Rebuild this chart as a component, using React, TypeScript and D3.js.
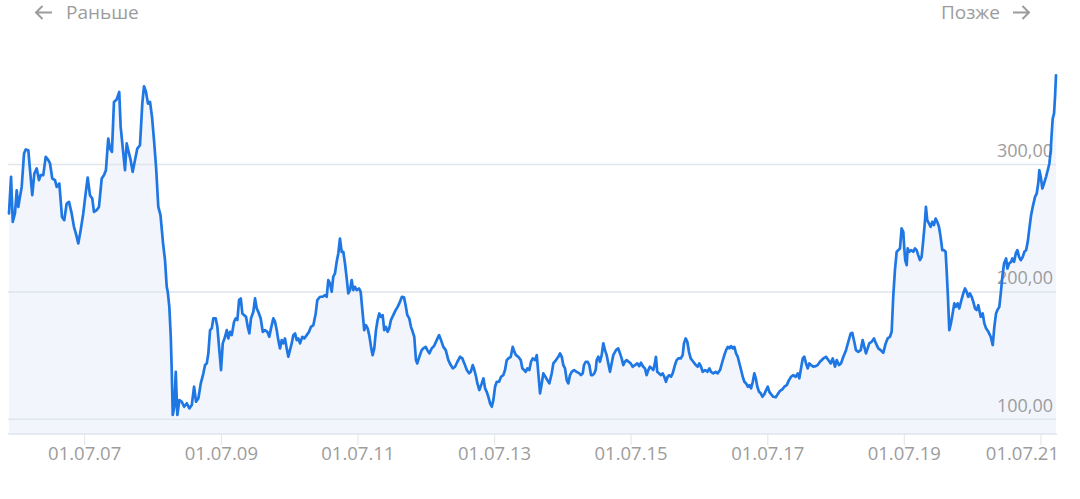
import React, { useEffect, useRef } from 'react';
import * as d3 from 'd3';

// time as decimal years, price in rubles
const YEARS = [
  2006.387, 2006.417, 2006.442, 2006.475, 2006.5, 2006.523, 2006.548, 2006.573, 2006.607, 2006.632,
  2006.67, 2006.695, 2006.728, 2006.758, 2006.793, 2006.827, 2006.851, 2006.889, 2006.925, 2006.963,
  2006.988, 2007.021, 2007.061, 2007.086, 2007.124, 2007.163, 2007.197, 2007.232, 2007.266, 2007.305,
  2007.339, 2007.373, 2007.402, 2007.437, 2007.475, 2007.51, 2007.54, 2007.573, 2007.607, 2007.632,
  2007.671, 2007.705, 2007.745, 2007.778, 2007.807, 2007.841, 2007.866, 2007.895, 2007.925, 2007.964,
  2008.002, 2008.023, 2008.052, 2008.086, 2008.111, 2008.134, 2008.169, 2008.198, 2008.232, 2008.266,
  2008.305, 2008.339, 2008.364, 2008.393, 2008.422, 2008.452, 2008.481, 2008.51, 2008.54, 2008.573,
  2008.605, 2008.642, 2008.671, 2008.696, 2008.711, 2008.734, 2008.755, 2008.769, 2008.784, 2008.807,
  2008.828, 2008.851, 2008.881, 2008.916, 2008.95, 2008.989, 2009.027, 2009.062, 2009.096, 2009.125,
  2009.159, 2009.194, 2009.232, 2009.257, 2009.282, 2009.305, 2009.33, 2009.355, 2009.378, 2009.413,
  2009.437, 2009.466, 2009.491, 2009.516, 2009.55, 2009.575, 2009.598, 2009.623, 2009.648, 2009.682,
  2009.706, 2009.73, 2009.755, 2009.78, 2009.803, 2009.828, 2009.857, 2009.882, 2009.906, 2009.93,
  2009.964, 2009.989, 2010.014, 2010.037, 2010.072, 2010.102, 2010.135, 2010.169, 2010.198, 2010.223,
  2010.257, 2010.282, 2010.307, 2010.33, 2010.355, 2010.38, 2010.403, 2010.428, 2010.453, 2010.477,
  2010.501, 2010.526, 2010.55, 2010.575, 2010.6, 2010.623, 2010.648, 2010.682, 2010.711, 2010.746,
  2010.78, 2010.809, 2010.843, 2010.878, 2010.901, 2010.941, 2010.98, 2011.014, 2011.039, 2011.062,
  2011.087, 2011.112, 2011.135, 2011.16, 2011.185, 2011.209, 2011.233, 2011.258, 2011.282, 2011.307,
  2011.332, 2011.355, 2011.38, 2011.405, 2011.428, 2011.453, 2011.478, 2011.512, 2011.537, 2011.566,
  2011.589, 2011.614, 2011.639, 2011.662, 2011.692, 2011.712, 2011.736, 2011.761, 2011.785, 2011.809,
  2011.834, 2011.859, 2011.882, 2011.907, 2011.932, 2011.955, 2011.98, 2012.014, 2012.049, 2012.078,
  2012.112, 2012.141, 2012.171, 2012.195, 2012.219, 2012.248, 2012.273, 2012.298, 2012.321, 2012.346,
  2012.365, 2012.395, 2012.43, 2012.453, 2012.488, 2012.512, 2012.541, 2012.576, 2012.61, 2012.649,
  2012.683, 2012.712, 2012.746, 2012.781, 2012.819, 2012.854, 2012.884, 2012.917, 2012.951, 2012.99,
  2013.024, 2013.053, 2013.089, 2013.122, 2013.147, 2013.176, 2013.2, 2013.225, 2013.244, 2013.273,
  2013.308, 2013.332, 2013.357, 2013.381, 2013.405, 2013.43, 2013.455, 2013.478, 2013.503, 2013.528,
  2013.561, 2013.591, 2013.624, 2013.649, 2013.674, 2013.698, 2013.733, 2013.762, 2013.786, 2013.81,
  2013.844, 2013.879, 2013.903, 2013.928, 2013.952, 2013.976, 2014.005, 2014.03, 2014.055, 2014.089,
  2014.114, 2014.137, 2014.162, 2014.187, 2014.21, 2014.24, 2014.269, 2014.298, 2014.333, 2014.357,
  2014.396, 2014.43, 2014.455, 2014.48, 2014.503, 2014.528, 2014.553, 2014.576, 2014.601, 2014.626,
  2014.66, 2014.699, 2014.737, 2014.762, 2014.787, 2014.806, 2014.831, 2014.86, 2014.884, 2014.909,
  2014.933, 2014.957, 2014.977, 2014.992, 2015.015, 2015.04, 2015.065, 2015.089, 2015.113, 2015.138,
  2015.162, 2015.187, 2015.211, 2015.235, 2015.275, 2015.308, 2015.333, 2015.358, 2015.381, 2015.406,
  2015.431, 2015.46, 2015.49, 2015.519, 2015.553, 2015.586, 2015.616, 2015.64, 2015.674, 2015.699,
  2015.724, 2015.748, 2015.772, 2015.797, 2015.821, 2015.845, 2015.86, 2015.879, 2015.904, 2015.933,
  2015.958, 2015.982, 2016.007, 2016.031, 2016.055, 2016.08, 2016.105, 2016.138, 2016.163, 2016.187,
  2016.222, 2016.251, 2016.27, 2016.295, 2016.319, 2016.343, 2016.368, 2016.406, 2016.442, 2016.471,
  2016.494, 2016.519, 2016.544, 2016.578, 2016.611, 2016.641, 2016.665, 2016.699, 2016.734, 2016.763,
  2016.797, 2016.831, 2016.86, 2016.885, 2016.91, 2016.933, 2016.958, 2016.983, 2017.006, 2017.031,
  2017.056, 2017.08, 2017.105, 2017.129, 2017.153, 2017.178, 2017.203, 2017.226, 2017.251, 2017.276,
  2017.299, 2017.32, 2017.343, 2017.368, 2017.393, 2017.417, 2017.446, 2017.471, 2017.495, 2017.519,
  2017.544, 2017.577, 2017.613, 2017.642, 2017.676, 2017.709, 2017.739, 2017.774, 2017.807, 2017.837,
  2017.87, 2017.905, 2017.935, 2017.958, 2017.983, 2018.008, 2018.031, 2018.056, 2018.081, 2018.104,
  2018.129, 2018.163, 2018.198, 2018.227, 2018.261, 2018.31, 2018.349, 2018.383, 2018.418, 2018.447,
  2018.481, 2018.506, 2018.539, 2018.569, 2018.603, 2018.642, 2018.676, 2018.711, 2018.734, 2018.763,
  2018.788, 2018.822, 2018.857, 2018.886, 2018.91, 2018.935, 2018.959, 2018.983, 2019.018, 2019.052,
  2019.081, 2019.115, 2019.15, 2019.188, 2019.223, 2019.252, 2019.286, 2019.311, 2019.334, 2019.359,
  2019.384, 2019.408, 2019.433, 2019.457, 2019.481, 2019.496, 2019.51, 2019.531, 2019.545, 2019.569,
  2019.594, 2019.627, 2019.652, 2019.677, 2019.7, 2019.725, 2019.75, 2019.774, 2019.798, 2019.813,
  2019.832, 2019.857, 2019.882, 2019.906, 2019.93, 2019.955, 2019.979, 2020.004, 2020.028, 2020.052,
  2020.077, 2020.101, 2020.116, 2020.135, 2020.155, 2020.179, 2020.204, 2020.228, 2020.252, 2020.277,
  2020.301, 2020.325, 2020.359, 2020.384, 2020.409, 2020.432, 2020.457, 2020.482, 2020.506, 2020.531,
  2020.555, 2020.579, 2020.614, 2020.643, 2020.667, 2020.692, 2020.726, 2020.76, 2020.79, 2020.813,
  2020.838, 2020.857, 2020.886, 2020.907, 2020.93, 2020.955, 2020.985, 2021.004, 2021.028, 2021.058,
  2021.077, 2021.102, 2021.127, 2021.15, 2021.175, 2021.2, 2021.229, 2021.253, 2021.278, 2021.302,
  2021.326, 2021.351, 2021.375, 2021.409, 2021.434, 2021.458, 2021.472, 2021.493, 2021.516, 2021.541,
  2021.57, 2021.595, 2021.619, 2021.639, 2021.653, 2021.668, 2021.687, 2021.702, 2021.716,
];

const PRICES = [
  261.6, 290.3, 255.0, 261.8, 279.8, 266.7, 274.6, 282.4, 308.6, 311.8,
  311.2, 295.5, 275.9, 292.9, 296.9, 287.7, 291.6, 291.6, 306.0, 303.4,
  300.8, 289.0, 287.7, 282.4, 285.1, 258.9, 256.3, 269.4, 270.7, 261.6,
  251.1, 244.6, 238.0, 248.5, 261.6, 277.3, 289.8, 275.9, 273.3, 262.8,
  264.2, 266.7, 289.0, 291.6, 295.5, 320.4, 312.5, 309.9, 349.1, 351.0,
  356.9, 329.5, 313.8, 295.5, 316.5, 311.2, 303.4, 294.2, 303.4, 312.5,
  315.1, 347.8, 361.4, 356.9, 347.8, 349.1, 337.3, 319.1, 298.1, 266.7,
  260.2, 238.3, 224.9, 204.0, 200.1, 188.3, 164.8, 138.7, 103.4, 109.9,
  137.3, 103.4, 115.1, 113.8, 109.9, 112.6, 108.6, 111.2, 125.6, 113.8,
  116.5, 128.2, 136.1, 142.6, 143.9, 151.8, 170.0, 171.4, 179.2, 179.2,
  172.6, 154.3, 138.7, 159.6, 164.8, 170.0, 163.5, 168.7, 166.1, 176.6,
  179.2, 177.9, 193.6, 194.9, 183.1, 181.8, 180.5, 172.6, 167.4, 179.2,
  184.4, 194.9, 187.0, 184.4, 179.2, 168.7, 170.0, 168.7, 164.8, 171.4,
  179.2, 176.6, 170.0, 162.2, 155.7, 162.2, 159.6, 163.5, 155.7, 149.1,
  154.3, 159.6, 166.1, 167.4, 162.2, 163.5, 159.6, 164.8, 163.5, 166.1,
  168.7, 172.6, 173.9, 183.1, 193.6, 196.2, 196.2, 197.5, 196.2, 209.3,
  206.7, 200.1, 211.9, 214.5, 223.6, 230.2, 241.9, 231.5, 231.5, 222.3,
  210.6, 198.8, 201.4, 209.3, 201.4, 204.0, 201.4, 202.7, 200.1, 183.1,
  170.0, 173.9, 171.4, 166.1, 155.7, 150.4, 155.7, 170.0, 177.9, 183.1,
  180.5, 181.8, 170.0, 172.6, 168.7, 171.4, 177.9, 181.8, 185.7, 188.3,
  192.2, 196.2, 195.7, 189.6, 181.8, 179.2, 172.6, 168.7, 164.8, 146.5,
  143.9, 149.1, 154.3, 155.7, 156.9, 154.3, 151.8, 155.7, 157.5, 162.2,
  166.1, 162.2, 156.9, 154.3, 146.5, 142.6, 140.0, 141.3, 145.2, 149.1,
  147.8, 143.9, 138.7, 136.1, 137.3, 142.6, 138.7, 133.4, 128.2, 123.0,
  128.2, 132.2, 124.3, 121.6, 117.7, 112.6, 109.9, 115.1, 125.6, 129.5,
  129.5, 133.4, 134.7, 138.7, 146.5, 147.8, 149.1, 156.9, 153.0, 150.4,
  149.1, 146.5, 140.0, 138.7, 137.3, 140.0, 138.7, 145.2, 147.8, 146.5,
  150.4, 136.1, 120.4, 128.2, 136.1, 133.4, 130.8, 128.2, 136.1, 143.9,
  146.5, 149.1, 151.8, 149.1, 142.6, 140.0, 130.8, 128.2, 134.7, 137.3,
  138.7, 137.3, 136.1, 134.7, 136.1, 142.6, 145.2, 145.2, 142.6, 134.7,
  134.7, 136.1, 138.7, 146.5, 149.1, 145.2, 150.4, 159.6, 154.3, 150.4,
  143.9, 137.3, 143.9, 150.4, 154.3, 155.7, 151.8, 147.8, 142.6, 145.2,
  146.5, 145.2, 143.9, 141.3, 142.6, 143.9, 141.8, 144.4, 141.3, 140.0,
  134.7, 138.7, 141.3, 140.0, 138.7, 143.9, 149.1, 137.3, 136.1, 134.7,
  136.1, 133.4, 129.5, 133.4, 134.7, 133.4, 136.1, 142.6, 146.5, 147.8,
  147.8, 150.4, 159.6, 163.5, 160.9, 153.0, 147.8, 145.2, 142.6, 141.3,
  143.9, 141.3, 137.3, 138.7, 137.3, 140.0, 137.3, 136.1, 137.3, 136.1,
  138.7, 145.2, 150.4, 154.3, 156.9, 155.7, 157.5, 155.7, 156.9, 151.8,
  149.1, 143.9, 138.7, 133.4, 129.5, 128.2, 125.6, 126.9, 124.3, 129.5,
  136.1, 132.2, 125.6, 121.6, 120.4, 117.7, 119.8, 123.0, 125.6, 121.6,
  119.8, 117.7, 117.3, 119.8, 122.4, 123.5, 125.6, 126.9, 130.8, 133.4,
  134.7, 133.4, 136.1, 132.2, 140.0, 147.8, 149.1, 143.9, 140.0, 143.9,
  142.6, 141.3, 141.8, 142.6, 145.2, 147.8, 149.1, 146.5, 143.9, 147.8,
  141.3, 146.5, 142.6, 143.9, 149.1, 154.3, 160.9, 167.4, 167.9, 160.9,
  154.3, 153.0, 154.3, 162.2, 156.9, 151.8, 155.7, 159.6, 160.9, 163.5,
  159.6, 155.7, 154.3, 152.2, 159.6, 163.5, 164.8, 168.7, 196.2, 217.1,
  231.4, 232.8, 234.1, 249.8, 247.1, 234.1, 225.0, 221.0, 234.1, 231.5,
  232.8, 231.5, 234.1, 232.8, 228.9, 225.0, 227.5, 240.6, 255.0, 266.7,
  256.3, 253.7, 251.1, 255.0, 252.4, 257.6, 255.0, 251.1, 243.2, 232.8,
  232.8, 231.5, 217.1, 196.2, 170.0, 175.3, 183.1, 191.0, 188.3, 191.0,
  187.0, 192.2, 198.8, 202.7, 200.1, 196.2, 198.8, 196.2, 192.2, 187.0,
  185.7, 189.6, 180.5, 183.1, 175.3, 171.4, 168.7, 164.8, 158.3, 172.6,
  183.1, 185.7, 188.3, 198.8, 211.9, 222.3, 226.3, 218.4, 222.3, 223.6,
  226.3, 223.6, 230.2, 232.8, 227.5, 224.9, 227.5, 231.5, 232.8, 239.3,
  249.8, 260.2, 266.7, 274.6, 277.3, 286.4, 295.5, 290.3, 281.2, 285.1,
  290.3, 295.5, 300.8, 311.2, 324.3, 336.1, 340.0, 353.0, 370.0,
];

const Y_TICKS = [100, 200, 300];
const X_TICK_YEARS = [2007, 2009, 2011, 2013, 2015, 2017, 2019, 2021];
const NAV_PREV = 'Раньше';
const NAV_NEXT = 'Позже';

const WIDTH = 1080;
const HEIGHT = 499;
const FONT = "'Open Sans', 'DejaVu Sans', sans-serif";
const LABEL = '#9c9c9c';
const GRID = '#dfe5ea';
const LINE = '#1f77e4';

const toDate = (y: number) => {
  const yr = Math.floor(y);
  const a = Date.UTC(yr, 0, 1);
  const b = Date.UTC(yr + 1, 0, 1);
  return new Date(a + (y - yr) * (b - a));
};

const ruFormat = d3.formatLocale({
  decimal: ',',
  thousands: ' ',
  grouping: [3],
  currency: ['', ' ₽'],
}).format(',.2f');

const App: React.FC = () => {
  const svgRef = useRef<SVGSVGElement>(null);

  useEffect(() => {
    if (!svgRef.current) return;
    const svg = d3.select(svgRef.current);
    svg.selectAll('*').remove();

    const left = 9;
    const right = 1056;
    const top = 60;
    const bottom = 434;

    const data = YEARS.map((y, i) => ({ date: toDate(y), value: PRICES[i] }));

    const x = d3
      .scaleUtc()
      .domain([data[0].date, data[data.length - 1].date])
      .range([left, right]);
    const y = d3.scaleLinear().domain([88.5, 382]).range([bottom, top]);

    // area under the line
    const area = d3
      .area<{ date: Date; value: number }>()
      .x((d) => x(d.date))
      .y0(bottom)
      .y1((d) => y(d.value));
    svg.append('path').datum(data).attr('d', area).attr('fill', '#f2f6fc');

    // gridlines
    for (const t of Y_TICKS) {
      svg
        .append('line')
        .attr('x1', left - 1)
        .attr('x2', right)
        .attr('y1', y(t))
        .attr('y2', y(t))
        .attr('stroke', GRID)
        .attr('stroke-width', 1.5);
    }

    // bottom axis
    svg
      .append('line')
      .attr('x1', left - 1)
      .attr('x2', right + 1)
      .attr('y1', bottom)
      .attr('y2', bottom)
      .attr('stroke', '#dde4ec')
      .attr('stroke-width', 1.5);

    const tickDates = X_TICK_YEARS.map((yr) => new Date(Date.UTC(yr, 6, 1)));
    const fmt = d3.utcFormat('%d.%m.%y');
    for (const d of tickDates) {
      const tx = x(d);
      svg
        .append('line')
        .attr('x1', tx)
        .attr('x2', tx)
        .attr('y1', bottom)
        .attr('y2', bottom + 11)
        .attr('stroke', '#e3e8ee')
        .attr('stroke-width', 1.2);
      const label = svg
        .append('text')
        .attr('x', tx)
        .attr('y', 460)
        .attr('text-anchor', 'middle')
        .attr('font-family', FONT)
        .attr('font-size', 18.5)
        .attr('fill', LABEL)
        .text(fmt(d));
      const w = (label.node() as SVGTextElement).getComputedTextLength();
      if (tx + w / 2 > right + 3) {
        label.attr('text-anchor', 'end').attr('x', right + 3);
      }
    }

    // y labels
    for (const t of Y_TICKS) {
      svg
        .append('text')
        .attr('x', 1053)
        .attr('y', y(t) - 7.5)
        .attr('text-anchor', 'end')
        .attr('font-family', FONT)
        .attr('font-size', 18)
        .attr('fill', LABEL)
        .text(ruFormat(t));
    }

    // price line
    const line = d3
      .line<{ date: Date; value: number }>()
      .x((d) => x(d.date))
      .y((d) => y(d.value));
    svg
      .append('path')
      .datum(data)
      .attr('d', line)
      .attr('fill', 'none')
      .attr('stroke', LINE)
      .attr('stroke-width', 2.7)
      .attr('stroke-linejoin', 'round')
      .attr('stroke-linecap', 'round');

    // navigation
    const nav = svg.append('g').attr('fill', 'none').attr('stroke', LABEL).attr('stroke-width', 2);
    nav.append('path').attr('d', 'M36,12.5H52M42.5,6L36,12.5L42.5,19');
    nav.append('path').attr('d', 'M1013,12.5H1029M1022.5,6L1029,12.5L1022.5,19');

    svg
      .append('text')
      .attr('x', 66)
      .attr('y', 19)
      .attr('font-family', FONT)
      .attr('font-size', 19)
      .attr('fill', LABEL)
      .text(NAV_PREV);
    svg
      .append('text')
      .attr('x', 1000)
      .attr('y', 19)
      .attr('text-anchor', 'end')
      .attr('font-family', FONT)
      .attr('font-size', 19)
      .attr('fill', LABEL)
      .text(NAV_NEXT);
  }, []);

  return (
    <div style={{ position: 'absolute', left: 0, top: 0, width: WIDTH, height: HEIGHT, background: '#fff' }}>
      <svg ref={svgRef} width={WIDTH} height={HEIGHT} role="img" aria-label="Price chart" />
    </div>
  );
};

export default App;
